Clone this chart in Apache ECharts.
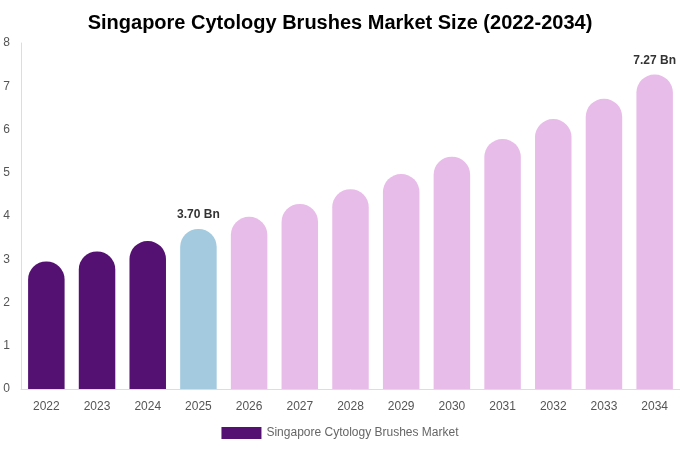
<!DOCTYPE html>
<html>
<head>
    <meta charset="utf-8">
    <title>Singapore Cytology Brushes Market Size</title>
    <script src="https://cdn.jsdelivr.net/npm/echarts@6/dist/echarts.min.js"></script>
    <style>
        html, body { margin: 0; padding: 0; background: #fff; }
        #chart { width: 680px; height: 450px; }
    </style>
</head>
<body>
<div id="chart"></div>
<script>
    var years = ['2022', '2023', '2024', '2025', '2026', '2027', '2028', '2029', '2030', '2031', '2032', '2033', '2034'];
    var values = [2.95, 3.18, 3.42, 3.70, 3.98, 4.28, 4.62, 4.97, 5.37, 5.78, 6.24, 6.71, 7.27];
    var yTicks = [0, 1, 2, 3, 4, 5, 6, 7, 8];
    var labelled = ['2025', '2034'];

    var colHistory = '#541172';
    var colCurrent = '#a3cadf';
    var colForecast = '#e8bce9';

    var chart = echarts.init(document.getElementById('chart'));

    var barData = values.map(function (v, i) {
        var y = +years[i];
        var c = y < 2025 ? colHistory : (y === 2025 ? colCurrent : colForecast);
        return {
            value: v,
            itemStyle: { color: c },
            label: {
                show: labelled.indexOf(years[i]) >= 0,
                position: 'top',
                distance: 8,
                formatter: function (p) { return p.value.toFixed(2) + ' Bn'; },
                fontFamily: 'Liberation Sans',
                fontWeight: 'bold',
                fontSize: 12,
                color: '#333'
            }
        };
    });

    chart.setOption({
        animation: false,
        title: {
            text: 'Singapore Cytology Brushes Market Size (2022-2034)',
            left: 'center',
            top: 8,
            textStyle: { fontFamily: 'Liberation Sans', fontSize: 20, fontWeight: 'bold', color: '#000' }
        },
        legend: {
            bottom: 6,
            left: 'center',
            icon: 'rect',
            itemWidth: 40,
            itemHeight: 12,
            textStyle: { fontFamily: 'Liberation Sans', fontSize: 12, color: '#666' },
            data: [{ name: 'Singapore Cytology Brushes Market', itemStyle: { color: colHistory } }]
        },
        grid: { left: 21, right: 0, top: 43, bottom: 61, containLabel: false },
        xAxis: {
            type: 'category',
            data: years,
            axisLine: { lineStyle: { color: '#ddd' } },
            axisTick: { show: false },
            axisLabel: { fontFamily: 'Liberation Sans', fontSize: 12, color: '#555', margin: 12 }
        },
        yAxis: {
            type: 'value',
            min: yTicks[0],
            max: yTicks[yTicks.length - 1],
            interval: 1,
            axisLine: { show: true, lineStyle: { color: '#ddd' } },
            splitLine: { show: false },
            axisLabel: { fontFamily: 'Liberation Sans', fontSize: 12, color: '#555', margin: 11 }
        },
        series: [{
            name: 'Singapore Cytology Brushes Market',
            type: 'bar',
            barWidth: '72%',
            itemStyle: { borderRadius: [18, 18, 0, 0] },
            data: barData
        }]
    });
</script>
</body>
</html>
